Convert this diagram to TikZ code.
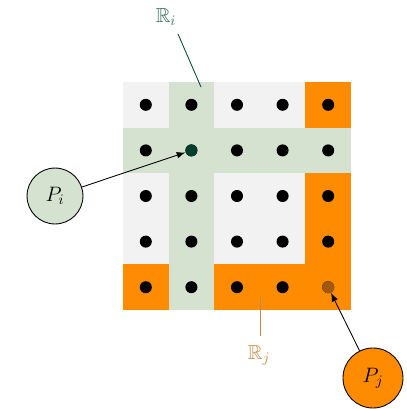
\documentclass[tikz,border=0pt]{standalone}
\usepackage{amssymb}
\usetikzlibrary{arrows.meta}
\definecolor{cellgray}{HTML}{F2F2F2}
\definecolor{greenfill}{HTML}{D5E2D0}
\definecolor{orangefill}{HTML}{FF8C00}
\definecolor{darkdot}{HTML}{003D2B}
\definecolor{browndot}{HTML}{A0590F}
\definecolor{ritext}{HTML}{2F6F5C}
\definecolor{riline}{HTML}{0B4A3A}
\definecolor{rjtext}{HTML}{C48A45}
\begin{document}
\begin{tikzpicture}[x=0.69pt,y=-0.69pt,
  every node/.style={font=\fontsize{14}{17}\selectfont},
  dot/.style={circle,fill=black,inner sep=0pt,minimum size=8.3pt},
  pnode/.style={circle,draw=black,line width=0.6pt,inner sep=0pt},
  arr/.style={-{Latex[length=6pt,width=4.5pt]},line width=0.6pt}]
\useasboundingbox (0,0) rectangle (407,409);
\fill[cellgray] (123,82) rectangle (351,310);
\fill[orangefill] (305.4,82) rectangle (351,310);
\fill[orangefill] (123,264.4) rectangle (351,310);
\fill[greenfill] (168.6,82) rectangle (214.2,310);
\fill[greenfill] (123,127.6) rectangle (351,173.2);
\foreach \i in {0,...,4}{
  \foreach \j in {0,...,4}{
    \node[dot] (d\i\j) at (145.8+45.6*\i,104.8+45.6*\j) {};
  }
}
\node[dot,fill=darkdot] (dsi) at (191.4,150.4) {};
\node[dot,fill=browndot] (dsj) at (328.2,287.2) {};
\node[pnode,fill=greenfill,minimum size=38.6pt] (Pi) at (55,196) {$P_i$};
\node[pnode,fill=orangefill,minimum size=41.4pt] (Pj) at (373,378) {$P_j$};
\draw[arr] (Pi) -- (dsi);
\draw[arr] (Pj) -- (dsj);
\node[text=ritext] (Ri) at (166,17) {$\mathbb{R}_i$};
\coordinate (ris) at (178,34);
\coordinate (rie) at (201,87);
\draw[riline,line width=0.6pt] (ris) -- (rie);
\node[text=rjtext] (Rj) at (259,355) {$\mathbb{R}_j$};
\coordinate (rjs) at (260,297);
\coordinate (rje) at (260,336);
\draw[rjtext,line width=0.6pt] (rjs) -- (rje);
\end{tikzpicture}
\end{document}
